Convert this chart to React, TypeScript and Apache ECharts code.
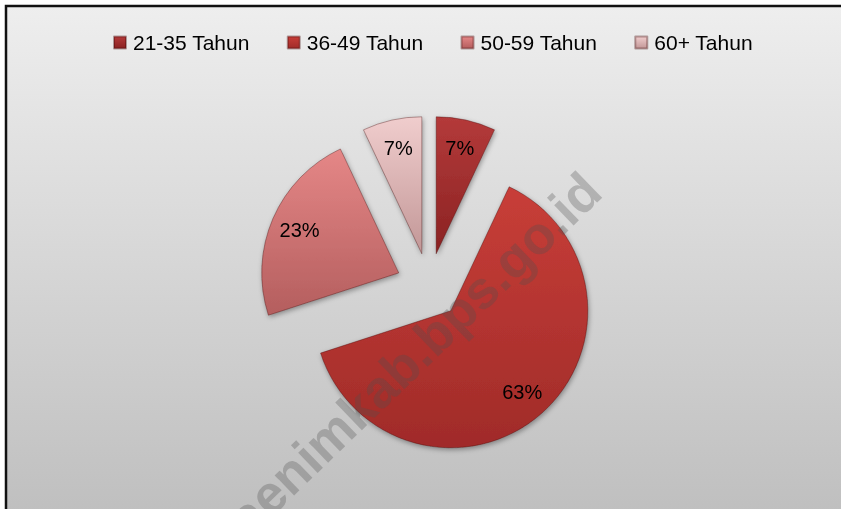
import React, { useEffect, useRef } from "react";
import * as echarts from "echarts";

const categories = ["21-35 Tahun", "36-49 Tahun", "50-59 Tahun", "60+ Tahun"];
const values = [7, 63, 23, 7];
const topColors = ["#B43A3A", "#C83E38", "#E58787", "#F0CDCD"];
const bottomColors = ["#8A2222", "#A02B29", "#B45E5E", "#C29797"];
const watermark = "muaraenimkab.bps.go.id";

export default function App() {
  const ref = useRef<HTMLDivElement>(null);
  useEffect(() => {
    if (!ref.current) return;
    const chart = echarts.init(ref.current, null, { renderer: "svg" });
    const grad = (i: number) =>
      new echarts.graphic.LinearGradient(0, 0, 0, 1, [
        { offset: 0, color: topColors[i] },
        { offset: 1, color: bottomColors[i] },
      ]);
    const mainData = categories.map((name, i) => ({
      name,
      value: values[i],
      selected: true,
      itemStyle: {
        color: grad(i),
        borderColor: "rgba(60,0,0,0.35)",
        borderWidth: 1,
        shadowBlur: 5,
        shadowColor: "rgba(0,0,0,0.35)",
        shadowOffsetX: 1,
        shadowOffsetY: 2,
      },
    }));
    const labelData = categories.map((name, i) => ({
      name,
      value: values[i],
      selected: true,
    }));
    const center = [429, 286];
    chart.setOption({
      animation: false,
      graphic: [
        {
          type: "rect",
          z: -10,
          silent: true,
          shape: { x: 6, y: 6, width: 860, height: 530 },
          style: {
            fill: new echarts.graphic.LinearGradient(0, 0, 0, 1, [
              { offset: 0, color: "#EEEEEE" },
              { offset: 1, color: "#BDBDBD" },
            ]),
            stroke: "#111111",
            lineWidth: 2.5,
          },
        },
        {
          type: "text",
          z: 100,
          silent: true,
          x: 592,
          y: 182,
          rotation: (44 * Math.PI) / 180,
          style: {
            text: watermark,
            font: "bold 53px 'Liberation Sans', Arial, sans-serif",
            fill: "rgba(80,80,80,0.3)",
            align: "right",
            verticalAlign: "middle",
          },
        },
      ],
      legend: {
        top: 27,
        left: 108,
        icon: "rect",
        itemWidth: 12,
        itemHeight: 12,
        itemGap: 37,
        selectedMode: false,
        textStyle: {
          fontFamily: "'Liberation Sans', Arial, sans-serif",
          fontSize: 21,
          color: "#000",
          padding: [0, 0, 0, 2],
        },
        data: categories,
      },
      series: [
        {
          type: "pie",
          center,
          radius: [0, 137],
          startAngle: 90,
          clockwise: true,
          selectedMode: "multiple",
          selectedOffset: 33,
          silent: true,
          label: { show: false },
          labelLine: { show: false },
          emphasis: { disabled: true },
          data: mainData,
        },
        {
          type: "pie",
          center,
          radius: [73, 137],
          startAngle: 90,
          clockwise: true,
          selectedMode: "multiple",
          selectedOffset: 33,
          silent: true,
          z: 5,
          itemStyle: { color: "rgba(0,0,0,0)" },
          select: { itemStyle: { color: "rgba(0,0,0,0)", borderWidth: 0 } },
          emphasis: { disabled: true },
          label: {
            show: true,
            position: "inside",
            formatter: "{c}%",
            fontFamily: "'Liberation Sans', Arial, sans-serif",
            fontSize: 20,
            color: "#000",
          },
          labelLine: { show: false },
          data: labelData,
        },
      ],
    });
    return () => chart.dispose();
  }, []);
  return (
    <div
      ref={ref}
      style={{ position: "fixed", left: 0, top: 0, width: 841, height: 509 }}
    />
  );
}
